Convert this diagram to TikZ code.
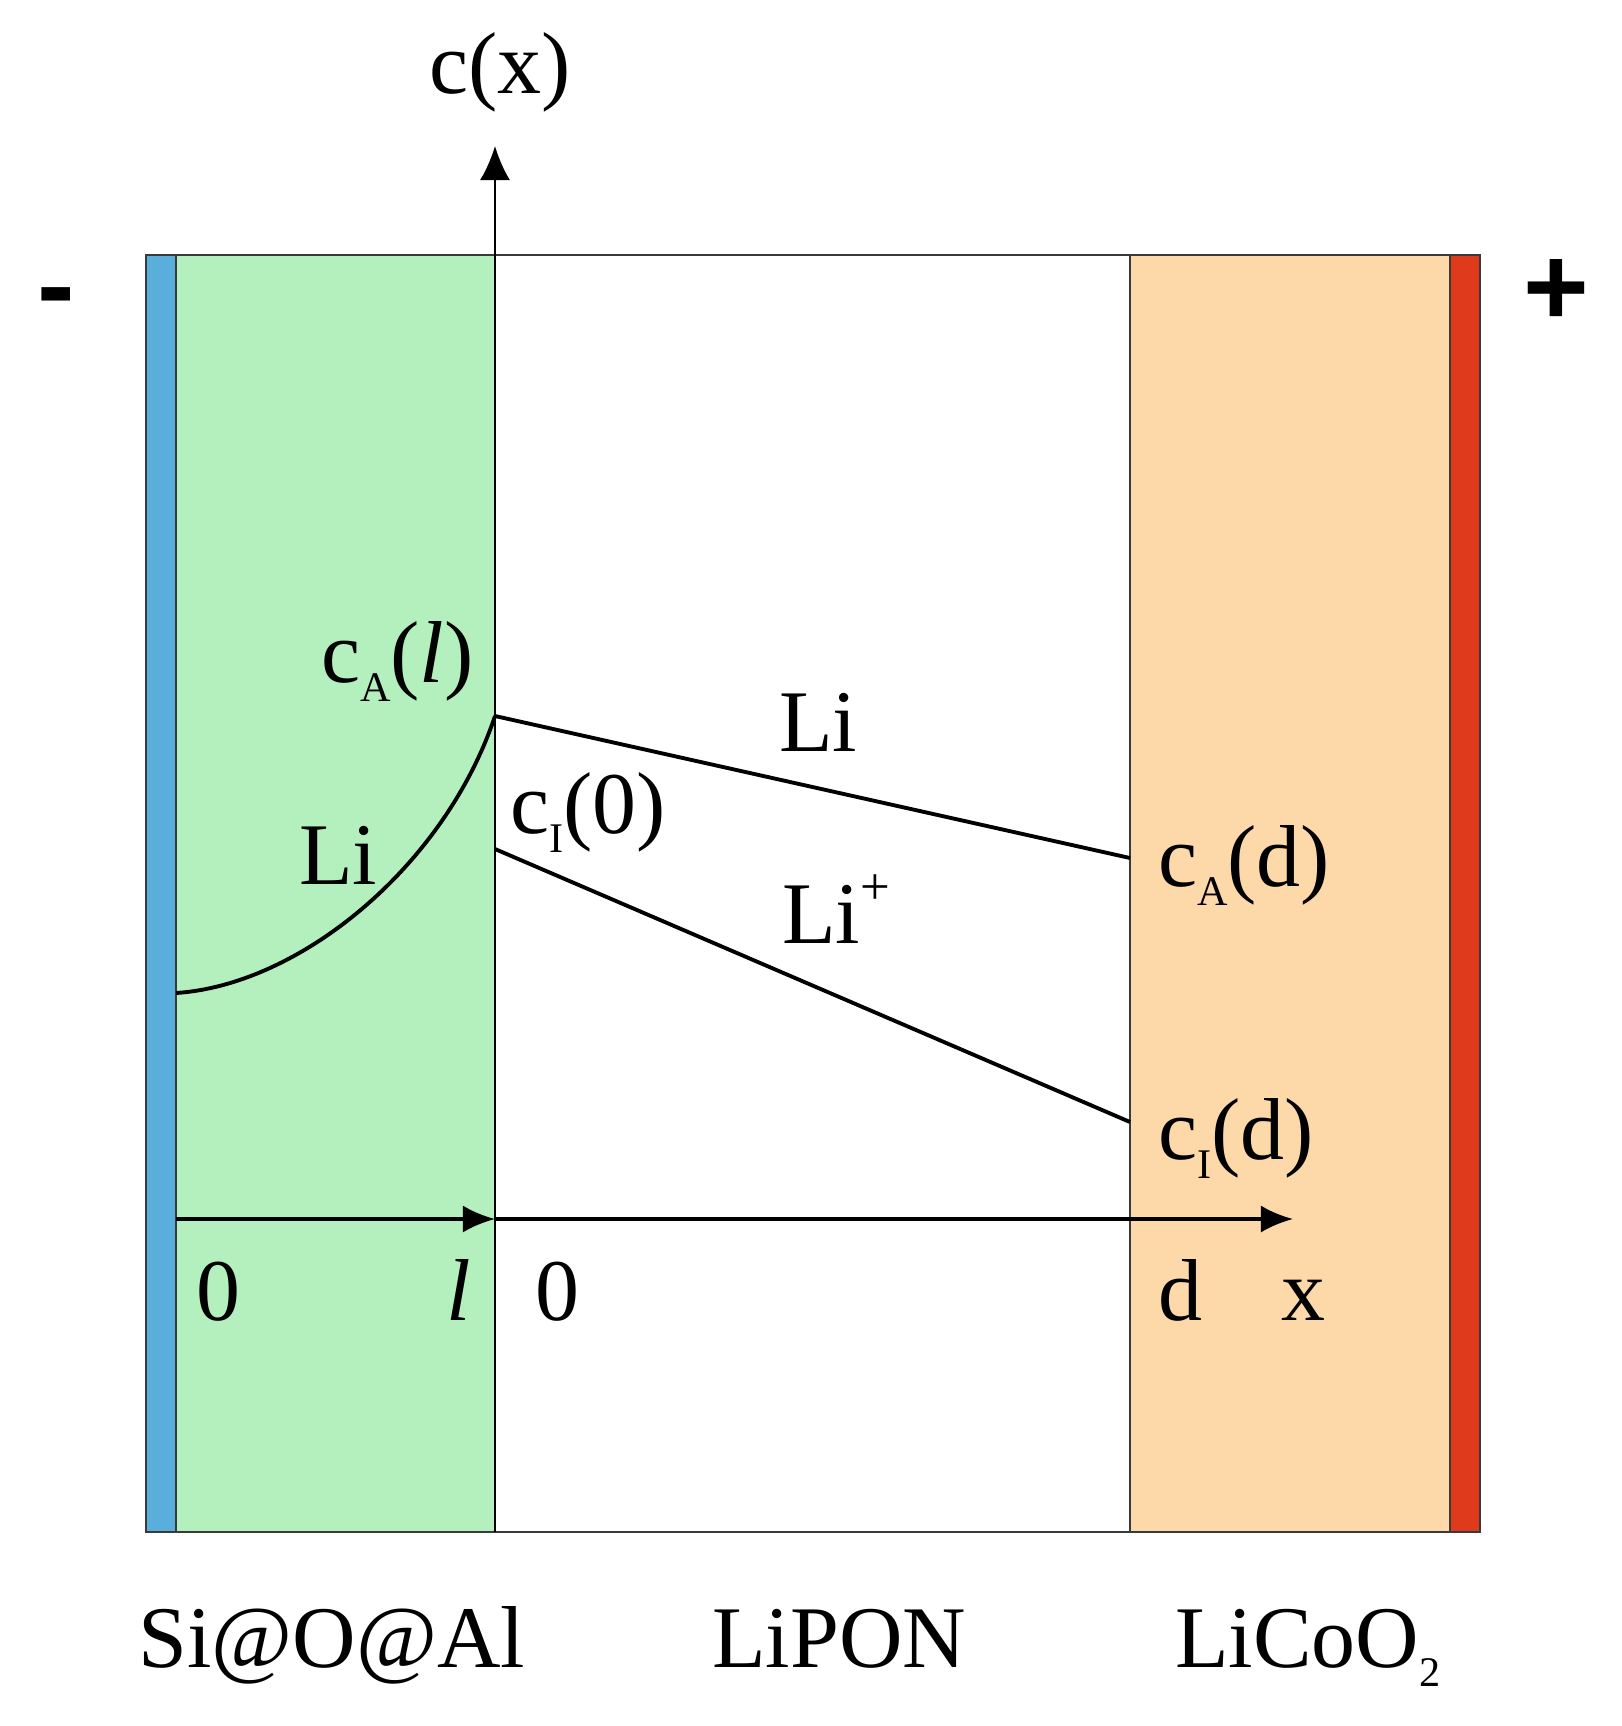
\documentclass[tikz,border=0pt]{standalone}
\usepackage{fontspec}
\setmainfont{Liberation Serif}
\setsansfont{Liberation Sans}
\usetikzlibrary{arrows.meta}
\definecolor{bluestrip}{HTML}{5AAEDC}
\definecolor{greenfill}{HTML}{B4F0BE}
\definecolor{orangefill}{HTML}{FDD8A9}
\definecolor{redstrip}{HTML}{DF3A1C}
\definecolor{framegray}{HTML}{3A3A3A}
\newcommand{\mylowsub}[1]{\raisebox{-5.5pt}{\fontsize{12}{12}\selectfont #1}}
\newcommand{\myhighsup}[1]{\raisebox{11pt}{\fontsize{15}{15}\selectfont #1}}
\begin{document}
\begin{tikzpicture}[x=0.01cm,y=-0.01cm,
  lbl/.style={font=\fontsize{25}{30}\selectfont, inner sep=0pt, outer sep=0pt},
  sign/.style={font=\sffamily\bfseries\fontsize{32}{36}\selectfont, inner sep=0pt},
  frame/.style={draw=framegray, line width=0.6pt},
  axis/.style={line width=1pt, -{Latex[length=0.32cm,width=0.27cm]}},
  vaxis/.style={line width=0.6pt, -{Latex[length=0.34cm,width=0.3cm]}},
  profile/.style={line width=1.1pt, black}]
\useasboundingbox (0,0) rectangle (1622,1726);
\fill[white] (0,0) rectangle (1622,1726);
% layers
\fill[bluestrip] (146,255) rectangle (176,1532);
\fill[greenfill] (176,255) rectangle (495,1532);
\fill[orangefill] (1130,255) rectangle (1450,1532);
\fill[redstrip] (1450,255) rectangle (1480,1532);
\draw[frame] (146,255) rectangle (1480,1532);
\draw[frame] (176,255) -- (176,1532);
\draw[frame] (1130,255) -- (1130,1532);
\draw[frame] (1450,255) -- (1450,1532);
% coordinates
\coordinate (origin) at (495,1219);
\coordinate (leftorigin) at (176,1219);
\coordinate (xend) at (1293,1219);
\coordinate (yend) at (495,146);
\coordinate (ybase) at (495,1532);
\coordinate (curvestart) at (176,993);
\coordinate (cAl) at (495,716);
\coordinate (cI0) at (495,849);
\coordinate (cAd) at (1130,858);
\coordinate (cId) at (1130,1122);
% axes
\draw[vaxis] (ybase) -- (yend);
\draw[axis] (leftorigin) -- (origin);
\draw[axis] (origin) -- (xend);
% profiles
\draw[profile] (curvestart) .. controls (300,985) and (445,866) .. (cAl);
\draw[profile] (cAl) -- (cAd);
\draw[profile] (cI0) -- (cId);
% labels
\node[lbl, anchor=base] (cx) at (500,93) {c(x)};
\node[sign] (minus) at (56,306) {-};
\node[sign] (plus) at (1556,292) {+};
\node[lbl, anchor=base west] (lcAl) at (321,682) {c\mylowsub{A}(\textit{l})};
\node[lbl, anchor=base west] (lLiA) at (299,884) {Li};
\node[lbl, anchor=base west] (lcI0) at (510,833) {c\mylowsub{I}(0)};
\node[lbl, anchor=base west] (lLi) at (779,751) {Li};
\node[lbl, anchor=base west] (lLip) at (782,943) {Li\myhighsup{+}};
\node[lbl, anchor=base west] (lcAd) at (1158,886) {c\mylowsub{A}(d)};
\node[lbl, anchor=base west] (lcId) at (1158,1159) {c\mylowsub{I}(d)};
\node[lbl, anchor=base] (z1) at (218,1320) {0};
\node[lbl, anchor=base] (ll) at (459,1320) {\textit{l}};
\node[lbl, anchor=base] (z2) at (557,1320) {0};
\node[lbl, anchor=base] (dd) at (1180,1320) {d};
\node[lbl, anchor=base] (xx) at (1303,1320) {x};
\node[lbl, anchor=base] (anode) at (332,1667) {Si@O@Al};
\node[lbl, anchor=base] (elec) at (839,1667) {LiPON};
\node[lbl, anchor=base west] (cath) at (1175,1667) {LiCoO\mylowsub{2}};
\end{tikzpicture}
\end{document}
